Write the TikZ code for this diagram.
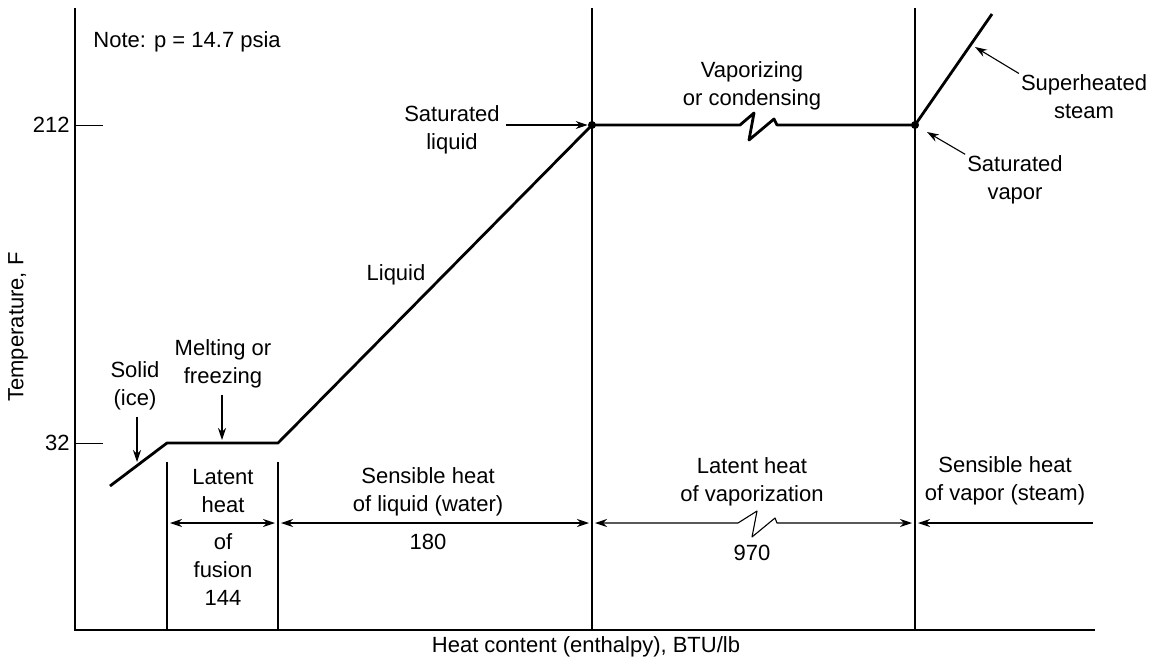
\documentclass[tikz,border=0pt]{standalone}
\usepackage{fontspec}
\setmainfont{Liberation Sans}
\usetikzlibrary{arrows.meta}

\begin{document}
\begin{tikzpicture}[>={Stealth[length=6pt,width=4pt]},x=0.5pt,y=-0.5pt,
	every node/.style={font=\fontsize{11}{14}\selectfont,align=center,inner sep=0pt},
	curve/.style={line width=1.4pt,line join=round},
	axis/.style={line width=1pt},
	guide/.style={line width=0.6pt},
	pointer/.style={->,line width=0.55pt},
	dot/.style={circle,fill,inner sep=0pt,minimum size=4pt}]

\useasboundingbox (0,0) rectangle (1159,658);

\coordinate (o)    at (75,630);
\coordinate (ytop) at (75,8);
\coordinate (xend) at (1095,630);

	\draw[axis] (ytop) -- (o) -- (xend);
	\draw (75,125) -- ++(28,0);
	\draw (75,443) -- ++(28,0);

\node[anchor=east]  (l212)  at (70,125)  {212};
\node[anchor=east]  (l32)   at (70,443)  {32};
\node[rotate=90]    (ylab)  at (18,327)  {Temperature, F};
\node               (xlab)  at (586,647) {Heat content (enthalpy), BTU/lb};
\node[anchor=west]  (note)  at (93,42)   {Note: p = 14.7 psia};

\coordinate (s0) at (110,486);
\coordinate (m0) at (167,443);
\coordinate (m1) at (278,443);
\node[dot]  (sl) at (592,125) {};
\node[dot]  (sv) at (915,125) {};
\coordinate (sh) at (992,14);
\coordinate (k1) at (740,125);

	\draw[curve] (s0) -- (m0) -- (m1) -- (sl.center) -- (k1)
		-- ++(14,-12) -- ++(-5,27) -- ++(25,-21) -- ++(3,6) -- (sv.center) -- (sh);

	\draw[guide] (167,462) -- (167,630);
	\draw[guide] (278,462) -- (278,630);
	\draw[guide] (592,8)   -- (592,630);
	\draw[guide] (915,8)   -- (915,630);

\node (solid)   at (135,386)  {Solid\\(ice)};
\node (melting) at (223,364)  {Melting or\\freezing};
\node (liquid)  at (396,275)  {Liquid};
\node (satliq)  at (452,130)  {Saturated\\liquid};
\node (vapcon)  at (752,86)   {Vaporizing\\or condensing};
\node (superh)  at (1084,97)  {Superheated\\steam};
\node (satvap)  at (1015,180) {Saturated\\vapor};

\coordinate (icetip)  at (137,462);
\coordinate (melttip) at (222,440);
\coordinate (shtip)   at (975,47);
\coordinate (svtip)   at (927,132);

	\draw[pointer,shorten <=3pt] (solid.south -| icetip) -- (icetip);
	\draw[pointer,shorten <=3pt] (melting.south -| melttip) -- (melttip);
	\draw[pointer,shorten <=3pt] (satliq.east |- sl) -- (sl.west);
	\draw[pointer,shorten <=1pt] (superh.north west) -- (shtip);
	\draw[pointer,shorten <=1pt] (satvap.north west) -- (svtip);

\node (fusA)  at (223,491) {Latent\\heat};
\node (fusB)  at (223,570) {of\\fusion\\144};
\node (liqA)  at (428,492) {Sensible heat\\of liquid (water)};
\node (liqB)  at (428,542) {180};
\node (vapA)  at (752,482) {Latent heat\\of vaporization};
\node (vapB)  at (752,553) {970};
\node (stmA)  at (1005,481) {Sensible heat\\of vapor (steam)};

\coordinate (d1) at (170,523);
\coordinate (d2) at (275,523);
\coordinate (d3) at (281,523);
\coordinate (d4) at (589,523);
\coordinate (d5) at (595,523);
\coordinate (d6) at (912,523);
\coordinate (d7) at (918,523);
\coordinate (d8) at (1093,523);
\coordinate (k2) at (738,523);

	\draw[<->,line width=0.55pt] (d1) -- (d2);
	\draw[<->,line width=0.55pt] (d3) -- (d4);
	\draw[<->,line width=0.55pt,line join=round] (d5) -- (k2)
		-- ++(19,-12) -- ++(-5,26) -- ++(23,-19) -- ++(2,5) -- (d6);
	\draw[<-,line width=0.55pt] (d7) -- (d8);

\end{tikzpicture}
\end{document}
